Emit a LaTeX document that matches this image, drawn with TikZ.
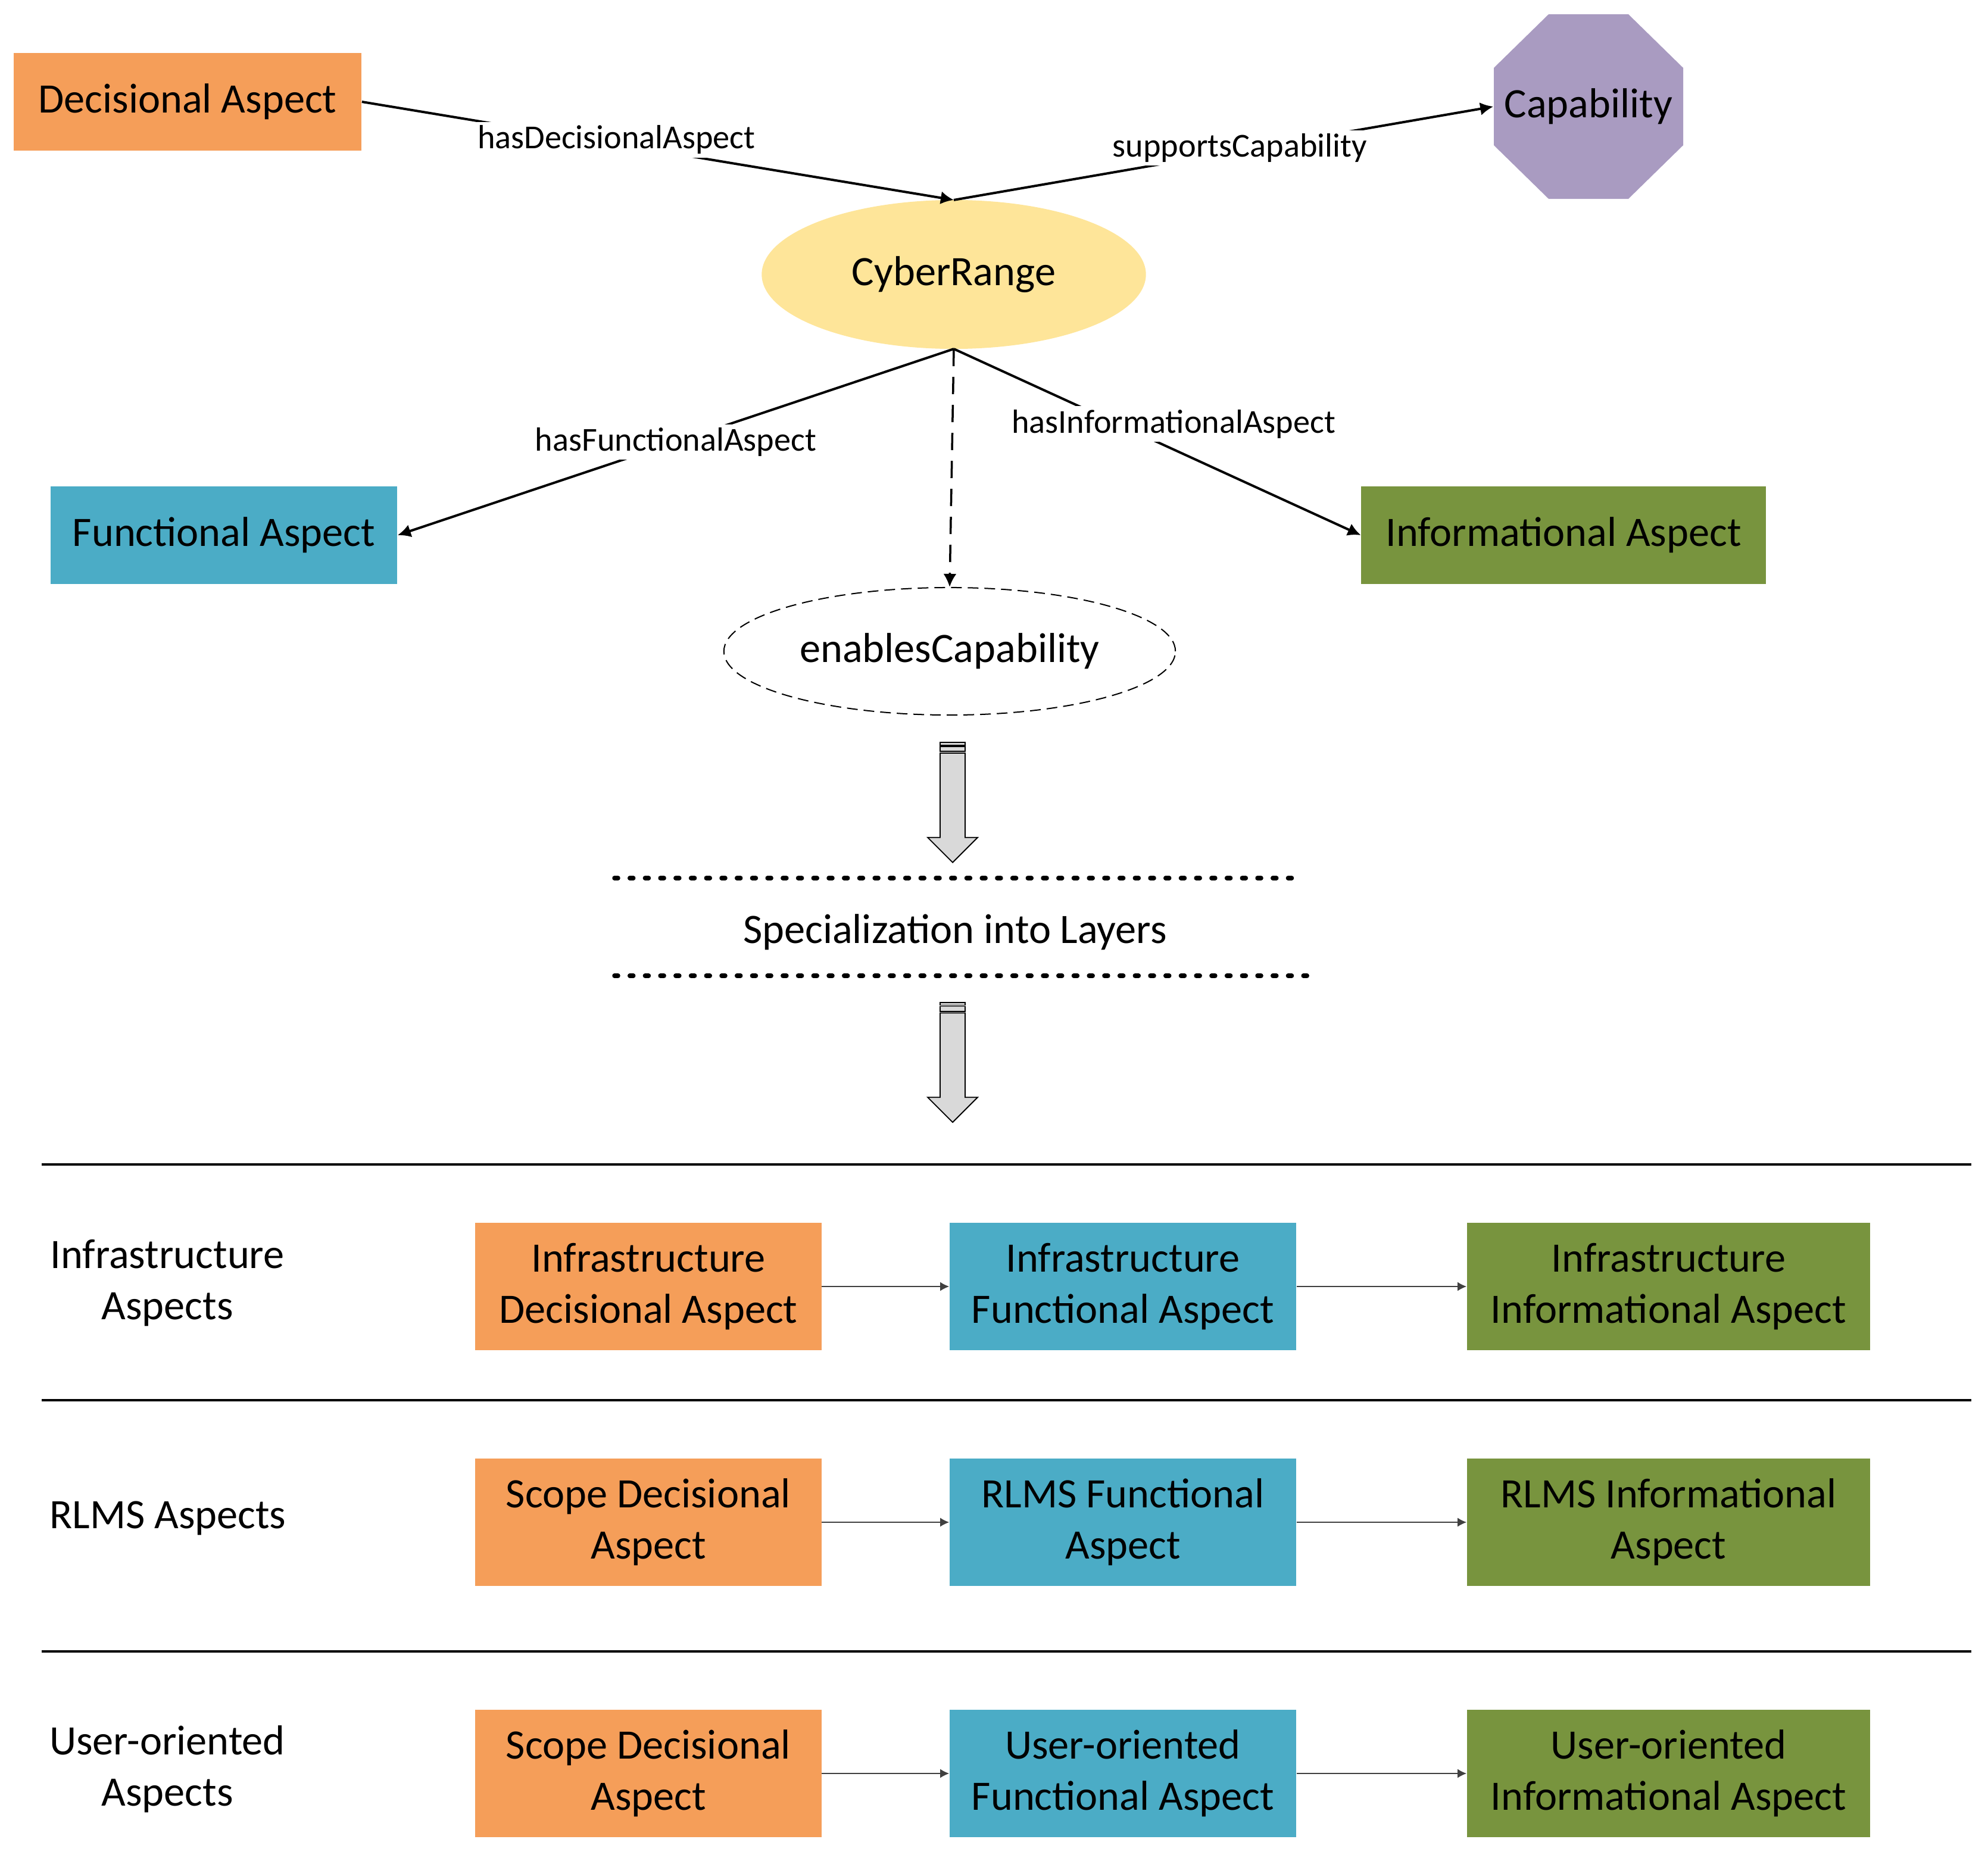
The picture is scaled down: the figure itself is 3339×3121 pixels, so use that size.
\documentclass[tikz,border=0pt]{standalone}
\usepackage{fontspec}
\setmainfont{Carlito}
\usetikzlibrary{shapes.geometric,arrows.meta}
\definecolor{cOrange}{HTML}{F59E59}
\definecolor{cBlue}{HTML}{4BACC6}
\definecolor{cGreen}{HTML}{78943E}
\definecolor{cPurple}{HTML}{A99BC1}
\definecolor{cYellow}{HTML}{FEE599}
\definecolor{cGray}{HTML}{D9D9D9}
\begin{document}
\begin{tikzpicture}[x=0.01cm,y=-0.01cm,
  big/.style={font=\fontsize{20}{24.4}\selectfont},
  lbl/.style={font=\fontsize{16}{19.5}\selectfont, fill=white, inner xsep=0.5pt, inner ysep=1.6pt},
  box/.style={rectangle, inner sep=0pt, minimum height=1.63cm, align=center, big},
  rowbox/.style={rectangle, inner sep=0pt, minimum height=2.14cm, align=center, big},
  rel/.style={line width=0.04cm, -{Latex[length=0.22cm,width=0.22cm]}},
  dashrel/.style={line width=0.035cm, dash pattern=on 0.29cm off 0.18cm, -{Latex[length=0.22cm,width=0.22cm]}},
  flow/.style={line width=0.012cm, draw=black!75, -{Latex[length=0.15cm,width=0.15cm]}},
  dotline/.style={line width=0.075cm, line cap=round, dash pattern=on 0.06cm off 0.197cm},
  sepline/.style={line width=0.045cm},
  blk/.style={draw=black, line width=0.018cm, fill=cGray},
  rowlabel/.style={big, align=center}
]
\useasboundingbox (0,0) rectangle (3339,3121);

% top concept nodes
\node[box, fill=cOrange, minimum width=5.84cm] (dec) at (315,171) {Decisional Aspect};
\fill[cPurple] (2601,24) -- (2735,24) -- (2827,114) -- (2827,244) -- (2735,334) -- (2601,334) -- (2509,244) -- (2509,114) -- cycle;
\node[rectangle, minimum width=3.18cm, minimum height=3.10cm, inner sep=0pt, big] (cap) at (2668,179) {Capability};
\node[ellipse, fill=cYellow, minimum width=6.45cm, minimum height=2.5cm, inner sep=0pt, outer sep=0pt, big] (cr) at (1602,461) {CyberRange};
\node[box, fill=cBlue, minimum width=5.82cm] (fun) at (376,899) {Functional Aspect};
\node[box, fill=cGreen, minimum width=6.79cm] (inf) at (2626,899) {Informational Aspect};
\node[ellipse, draw, line width=0.02cm, dash pattern=on 0.18cm off 0.1cm, minimum width=7.58cm, minimum height=2.14cm, inner sep=0pt, big] (en) at (1595,1094) {enablesCapability};

% relations
\draw[rel] (dec.east) -- node[lbl, pos=0.43, yshift=0.07cm] {hasDecisionalAspect} (cr.north);
\draw[rel] (cr.north) -- node[lbl, pos=0.53, yshift=0.04cm] {supportsCapability} (cap.west);
\draw[rel] (cr.south) -- node[lbl, pos=0.5] {hasFunctionalAspect} (fun.east);
\draw[rel] (cr.south) -- node[lbl, pos=0.54, yshift=0.43cm] {hasInformationalAspect} (inf.west);
\draw[dashrel] (cr.south) -- (en.north);

% block arrows
\foreach \dy in {0,436.5}{
  \begin{scope}[shift={(0,\dy)}]
    \draw[blk] (1579,1247.3) rectangle (1621,1252);
    \draw[blk] (1579,1254) rectangle (1621,1262.3);
    \draw[blk] (1579,1265) -- (1579,1406.7) -- (1558,1406.7) -- (1600,1448.7) -- (1642,1406.7) -- (1621,1406.7) -- (1621,1265) -- cycle;
  \end{scope}
}

% specialization
\draw[dotline] (1032,1475) -- (2184,1475);
\node[big] (spec) at (1604,1566) {Specialization into Layers};
\draw[dotline] (1032,1639) -- (2207,1639);

% separators
\draw[sepline] (70,1956) -- (3311,1956);
\draw[sepline] (70,2352) -- (3311,2352);
\draw[sepline] (70,2774) -- (3311,2774);

% row labels
\node[rowlabel] (l1) at (281,2155) {Infrastructure\\Aspects};
\node[rowlabel] (l2) at (282,2550) {RLMS Aspects};
\node[rowlabel] (l3) at (281,2972) {User-oriented\\Aspects};

% row 1
\node[rowbox, fill=cOrange, minimum width=5.81cm] (d1) at (1089,2161) {Infrastructure\\Decisional Aspect};
\node[rowbox, fill=cBlue, minimum width=5.82cm] (f1) at (1886,2161) {Infrastructure\\Functional Aspect};
\node[rowbox, fill=cGreen, minimum width=6.77cm] (i1) at (2802.5,2161) {Infrastructure\\Informational Aspect};
% row 2
\node[rowbox, fill=cOrange, minimum width=5.81cm] (d2) at (1089,2557) {Scope Decisional\\Aspect};
\node[rowbox, fill=cBlue, minimum width=5.82cm] (f2) at (1886,2557) {RLMS Functional\\Aspect};
\node[rowbox, fill=cGreen, minimum width=6.77cm] (i2) at (2802.5,2557) {RLMS Informational\\Aspect};
% row 3
\node[rowbox, fill=cOrange, minimum width=5.81cm] (d3) at (1089,2979) {Scope Decisional\\Aspect};
\node[rowbox, fill=cBlue, minimum width=5.82cm] (f3) at (1886,2979) {User-oriented\\Functional Aspect};
\node[rowbox, fill=cGreen, minimum width=6.77cm] (i3) at (2802.5,2979) {User-oriented\\Informational Aspect};

\foreach \r in {1,2,3}{
  \draw[flow] (d\r.east) -- (f\r.west);
  \draw[flow] (f\r.east) -- (i\r.west);
}
\end{tikzpicture}
\end{document}
